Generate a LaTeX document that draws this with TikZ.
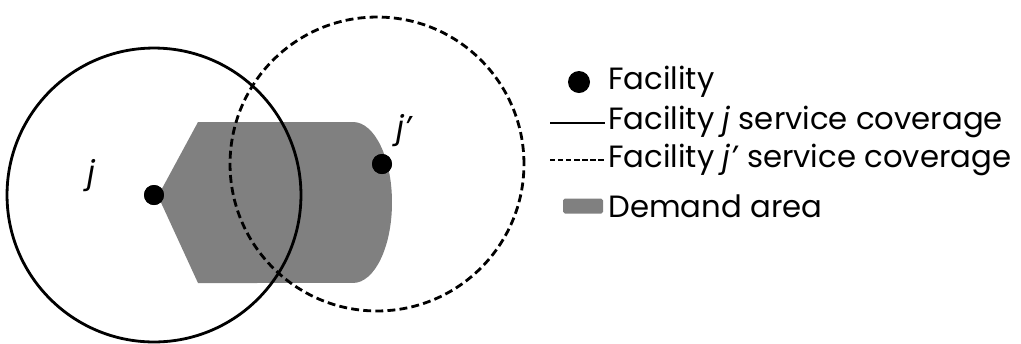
\documentclass[tikz,border=0pt]{standalone}
\usepackage{fontspec}
\setmainfont{Poppins}
\definecolor{demandgray}{RGB}{128,128,128}
\usetikzlibrary{positioning}

\begin{document}
\begin{tikzpicture}[x=0.02cm,y=-0.02cm,
    facility/.style={circle,fill=black,inner sep=0pt,minimum size=0.4cm},
    coverage/.style={line width=1.6pt},
    covdash/.style={coverage,dash pattern=on 4.5pt off 2.4pt},
    legtext/.style={anchor=west,inner sep=0pt,font=\fontsize{17.5}{20}\selectfont}]
\useasboundingbox (0,0) rectangle (1021,343);

% demand area
\fill[demandgray] (198,122) -- (353,122)
    arc[start angle=90,end angle=-90,x radius=0.78cm,y radius=1.61cm]
    -- (198,283) -- (158,196) -- cycle;

% facilities and their coverage
\node[facility] (facj) at (154,195) {};
\node[facility] (facjp) at (382,164) {};
\draw[coverage] (facj) circle[radius=2.94cm];
\draw[covdash] (377,164) circle[radius=2.94cm];
\node[facility] at (facj) {};
\node[facility] at (facjp) {};
\node[font=\fontsize{18}{20}\selectfont] (labj) at (92,176) {\textit{j}};
\node[font=\fontsize{18}{20}\selectfont] (labjp) at (405,131) {\textit{j'}};

% legend
\node[facility,minimum size=0.44cm] (legdot) at (579,82) {};
\node[legtext] (legfac) at (608,82) {Facility};
\coordinate (solA) at (550,123);
\coordinate (solB) at (605,123);
\draw[line width=1.2pt] (solA) -- (solB);
\node[legtext] (legsol) at (608,122) {Facility \textit{j} service coverage};
\coordinate (dashA) at (550,160);
\coordinate (dashB) at (605,160);
\draw[line width=1.2pt,dash pattern=on 3pt off 1.6pt] (dashA) -- (dashB);
\node[legtext] (legdash) at (608,160) {Facility \textit{j'} service coverage};
\node[fill=demandgray,rounded corners=1pt,minimum width=0.8cm,minimum height=0.3cm,inner sep=0pt] (legbox) at (583,206) {};
\node[legtext] (legdem) at (608,206) {Demand area};
\end{tikzpicture}
\end{document}
